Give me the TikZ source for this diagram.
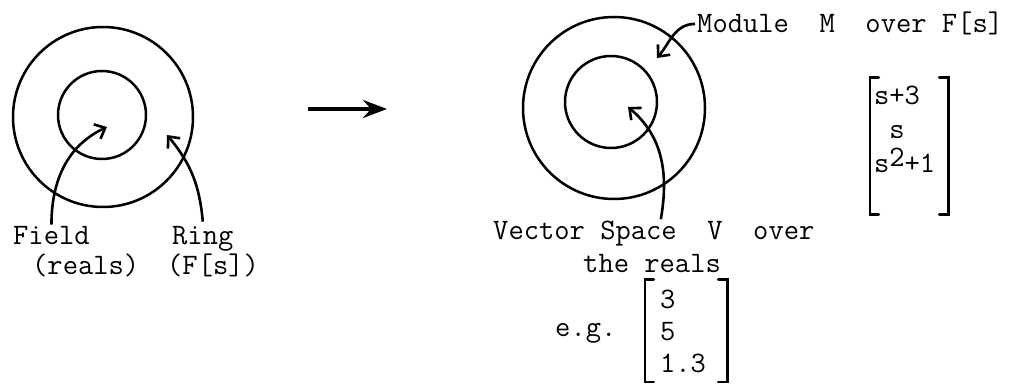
\documentclass[tikz,border=0pt]{standalone}
\usepackage{xcolor}
\usepackage{tikz}
\usetikzlibrary{arrows.meta}
\newcommand{\typefont}{\ttfamily\fontsize{29.7}{32}\selectfont}

\begin{document}
\begin{tikzpicture}[
  x=1pt,y=1pt,>=Latex,
  orbit/.style={draw,circle,line width=2.5pt,inner sep=0pt},
  lbl/.style={font=\typefont,inner sep=2pt,anchor=base west},
  vecbox/.style={font=\typefont,align=left,inner ysep=0pt},
  bracket/.style={line width=2.6pt,line cap=round},
  pointer/.style={line width=2.6pt,-{Straight Barb[length=9pt,width=16pt]}},
  mapsto/.style={line width=4.5pt,-{Stealth[length=24pt,width=18pt,inset=8pt]}}
]
\useasboundingbox (0,0) rectangle (1017,385);
% field inside ring
\node[orbit,minimum size=180pt] (outerL) at (103,268) {};
\node[orbit,minimum size=88pt] (innerL) at (102,270) {};
\node[lbl] (field) at (11,140) {Field};
\node[lbl] (ring) at (170,140) {Ring};
\node[lbl] (reals) at (30,110) {(reals)};
\node[lbl] (fs) at (165,110) {(F[s])};
\coordinate (fieldtip) at (107,258);
\coordinate (ringtip) at (167,250);
\draw[pointer] (field.north) to[out=90,in=205] (fieldtip);
\draw[pointer] ([yshift=3pt]ring.north) to[out=95,in=-50] (ringtip);
% map to the module picture
\coordinate (mapfrom) at (308,276);
\coordinate (mapto) at (387,276);
\draw[mapsto] (mapfrom) -- (mapto);
% vector space inside module
\node[orbit,minimum size=182pt] (outerR) at (614,277) {};
\node[orbit,minimum size=92pt] (innerR) at (611,283) {};
\node[lbl] (mod) at (695,352) {Module~~M~~over F[s]};
\node[lbl] (vs) at (491,145) {Vector Space~~V~~over};
\node[lbl] (thereals) at (581,112) {the reals};
\node[lbl] (eg) at (553,48) {e.g.};
\coordinate (modtip) at (657,327);
\coordinate (vstip) at (628,278);
\draw[pointer] (mod.west) to[out=180,in=50] (modtip);
\draw[pointer] ([xshift=7pt]vs.north) to[out=80,in=-40] (vstip);
% column vectors
\node[vecbox,text width=52pt,inner xsep=15pt,minimum height=102pt] (ex) at (686,54) {3\\5\\1.3};
\node[vecbox,text width=70pt,inner xsep=4pt,inner ysep=8pt] (mv) at (909,256)
  {s+3\\[2pt]\phantom{s}s\\[2pt]s\smash{\raisebox{6pt}{2}}+1};
\draw[bracket] ([xshift=9pt]ex.north west) -- (ex.north west) -- (ex.south west) -- ([xshift=9pt]ex.south west);
\draw[bracket] ([xshift=-9pt]ex.north east) -- (ex.north east) -- (ex.south east) -- ([xshift=-9pt]ex.south east);
\draw[bracket] ([xshift=9pt]mv.north west) -- (mv.north west) -- ([yshift=-34pt]mv.south west) -- ([shift={(9pt,-34pt)}]mv.south west);
\draw[bracket] ([xshift=-9pt]mv.north east) -- (mv.north east) -- ([yshift=-34pt]mv.south east) -- ([shift={(-9pt,-34pt)}]mv.south east);
\end{tikzpicture}
\end{document}
